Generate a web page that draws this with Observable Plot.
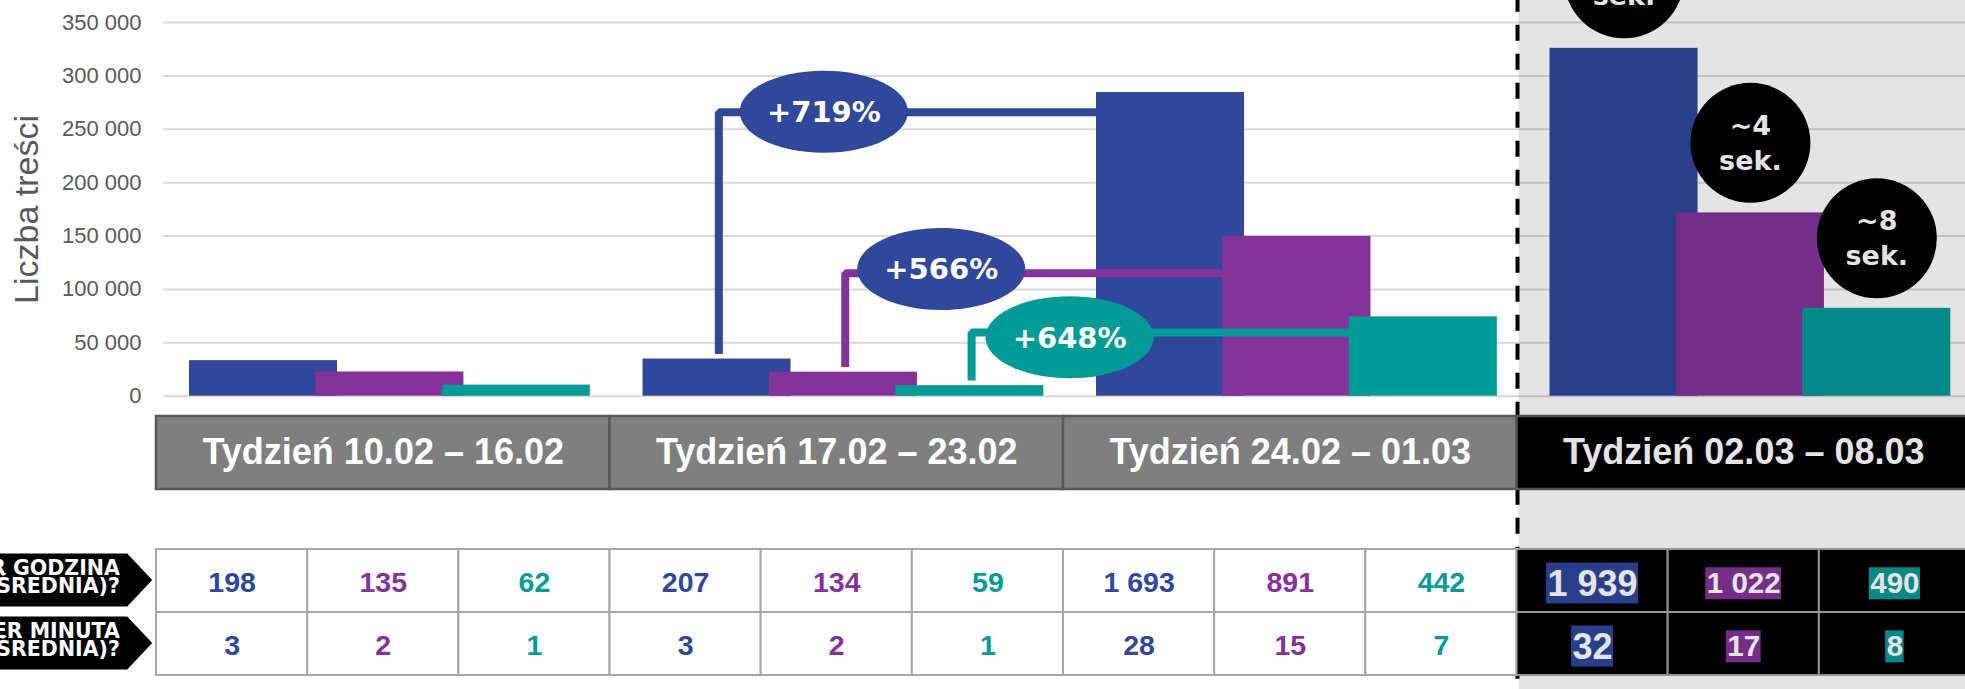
<!DOCTYPE html>
<html><head><meta charset="utf-8">
<script src="https://cdn.jsdelivr.net/npm/d3@7"></script>
<script src="https://cdn.jsdelivr.net/npm/@observablehq/plot@0.6"></script>
<style>
html,body{margin:0;padding:0;background:#fff;}
#chart{width:1965px;height:689px;overflow:hidden;}
#chart svg{display:block;max-width:none;}
</style></head><body><div id="chart"></div>
<script>
// ---------- data ----------
const weeks = ["Tydzień 10.02 – 16.02", "Tydzień 17.02 – 23.02", "Tydzień 24.02 – 01.03", "Tydzień 02.03 – 08.03"];
const seriesColors = ["#30479C", "#84339A", "#009A97"];
const barsBlue = [33300, 34800, 284400, 325800];
const barsPurple = [22700, 22500, 149700, 171700];
const barsTeal = [10400, 9900, 74300, 82300];
const perHourBlue = [198, 207, 1693, 1939];
const perHourPurple = [135, 134, 891, 1022];
const perHourTeal = [62, 59, 442, 490];
const perMinuteBlue = [3, 3, 28, 32];
const perMinutePurple = [2, 2, 15, 17];
const perMinuteTeal = [1, 1, 7, 8];
const yTicks = [0, 50000, 100000, 150000, 200000, 250000, 300000, 350000];
const changeLabels = ["+719%", "+566%", "+648%"];
const intervalLabels = ["~2\nsek.", "~4\nsek.", "~8\nsek."];
const rowKeys = ["godzina", "minuta"];
const rowLabels = ["ILE TREŚCI PER GODZINA\n(ŚREDNIA)?", "ILE TREŚCI PER MINUTA\n(ŚREDNIA)?"];
const yLabel = "Liczba treści";

// ---------- layout ----------
const W = 1965;
const XR = [156, 1970];
const BAND_PX = (XR[1] - XR[0]) / 4;
const OFF = 0.0728, STEP = 0.2787, BW = 0.3264;
const SANS = "'Liberation Sans', Arial, sans-serif";
const HEAVY = "'DejaVu Sans', sans-serif";
const OVERLAY = 0.106;
const calloutLevel = [266000, 115200, 59700];
const calloutLabelY = [266500, 119100, 55200];
const calloutDx = [105, 96, 98];
const calloutFill = [seriesColors[0], seriesColors[0], seriesColors[2]];
const fmtNum = d3.formatLocale({decimal: ",", thousands: " ", grouping: [3], currency: ["", ""]}).format(",d");

const series = [barsBlue, barsPurple, barsTeal];
const perHour = [perHourBlue, perHourPurple, perHourTeal];
const perMinute = [perMinuteBlue, perMinutePurple, perMinuteTeal];

const bars = [];
series.forEach((vals, s) => vals.forEach((v, g) => {
  const x1 = g + OFF + s * STEP;
  bars.push({g, s, v, x1, x2: x1 + BW, xc: x1 + BW / 2});
}));

const connectors = [];
const callouts = changeLabels.map((label, s) => {
  const cx = 1 + OFF + s * STEP + BW / 2 + 0.004;
  const endX = 2 + OFF + s * STEP;
  const bottom = series[s][1] + 4800;
  connectors.push({s, x: cx, y: bottom}, {s, x: cx, y: calloutLevel[s]}, {s, x: endX, y: calloutLevel[s]});
  return {label, s, x: cx + calloutDx[s] / BAND_PX, y: calloutLabelY[s], fill: calloutFill[s]};
});

const ellipse = {draw(ctx, size) {
  const r = Math.sqrt(size / Math.PI), ry = r, rx = r * 2.05, k = 0.5523;
  ctx.moveTo(rx, 0);
  ctx.bezierCurveTo(rx, ry * k, rx * k, ry, 0, ry);
  ctx.bezierCurveTo(-rx * k, ry, -rx, ry * k, -rx, 0);
  ctx.bezierCurveTo(-rx, -ry * k, -rx * k, -ry, 0, -ry);
  ctx.bezierCurveTo(rx * k, -ry, rx, -ry * k, rx, 0);
  ctx.closePath();
}};
const arrow = {draw(ctx) {
  ctx.moveTo(-170, -27.5); ctx.lineTo(-29.3, -27.5); ctx.lineTo(-4.3, -1);
  ctx.lineTo(-29.3, 25.5); ctx.lineTo(-170, 25.5); ctx.closePath();
}};

const overlay = () => Plot.rect([0], {x1: 3, x2: 4, insetLeft: 2, fill: "black", fillOpacity: OVERLAY});
const dashed = (offset) => Plot.ruleX([3], {stroke: "black", strokeWidth: 4, strokeDasharray: "16,13", strokeDashoffset: offset, dx: 0.5});
const xScale = {type: "linear", domain: [0, 4], range: XR, axis: null};
const baseStyle = {fontFamily: SANS, background: "transparent", maxWidth: "none"};

// ---------- chart ----------
const lastBars = bars.filter(d => d.g === 3);
const plotA = Plot.plot({
  width: W, height: 410, marginLeft: 163, marginRight: 0, marginTop: 0, marginBottom: 0,
  x: xScale,
  y: {type: "linear", domain: [0, 350000], range: [395.7, 22]},
  color: {type: "identity"},
  style: baseStyle,
  marks: [
    Plot.ruleY(yTicks, {stroke: "#D9D9D9", strokeWidth: 2}),
    Plot.rect(bars, {x1: "x1", x2: "x2", y1: () => 0, y2: "v", fill: d => seriesColors[d.s]}),
    Plot.line(connectors, {x: "x", y: "y", z: "s", stroke: d => seriesColors[d.s], strokeWidth: 8, strokeLinejoin: "miter", strokeLinecap: "butt"}),
    Plot.dot(callouts, {x: "x", y: "y", symbol: ellipse, r: 41, fill: "fill"}),
    Plot.text(callouts, {x: "x", y: "y", dy: 1, text: "label", fill: "white", fontSize: 29, fontWeight: "bold", fontFamily: HEAVY}),
    Plot.dot(lastBars, {x: "xc", y: "v", dy: -70, r: 60, fill: "black"}),
    Plot.text(lastBars, {x: "xc", y: "v", dy: -72, text: d => intervalLabels[d.s], fill: "white", fontSize: 27, fontWeight: "bold", fontFamily: HEAVY, lineHeight: 1.3}),
    overlay(),
    dashed(4.3),
    Plot.axisY(yTicks, {tickSize: 0, tickPadding: 22, tickFormat: fmtNum, fontSize: 22, color: "#595959", label: null}),
    Plot.text([yLabel], {frameAnchor: "left", textAnchor: "middle", rotate: -90, dx: -136, dy: 4, fontSize: 34, fill: "#595959"})
  ]
});

// ---------- header row ----------
const headerCells = weeks.map((w, g) => ({g, w}));
const plotB = Plot.plot({
  width: W, height: 90, margin: 0,
  x: xScale, color: {type: "identity"}, style: baseStyle,
  marks: [
    dashed(8.3),
    Plot.rect(headerCells, {x1: "g", x2: d => d.g + 1, insetTop: 6, insetBottom: 11, fill: d => d.g === 3 ? "black" : "#7F7F7F", stroke: "#595959", strokeWidth: 2.5}),
    Plot.text(headerCells, {x: d => d.g + 0.5, frameAnchor: "middle", dy: -3.3, text: "w", fill: "white", fontSize: 36, fontWeight: "bold"}),
    overlay()
  ]
});

// ---------- table ----------
const cells = [];
weeks.forEach((w, g) => [0, 1, 2].forEach(s => rowKeys.forEach((row, ri) => {
  const value = (ri === 0 ? perHour : perMinute)[s][g];
  cells.push({g, s, row, value, label: fmtNum(value), xc: g + (s + 0.5) / 3});
})));
const textW = (str, fs) => (str.replace(/ /g, "").length * 0.556 + (str.split(" ").length - 1) * 0.278) * fs + 2;
const bigCells = cells.filter(d => d.g === 3 && d.s === 0);
const smallCells = cells.filter(d => d.g === 3 && d.s > 0);
const box = (fs) => ({x1: d => d.xc - textW(d.label, fs) / 2 / BAND_PX, x2: d => d.xc + textW(d.label, fs) / 2 / BAND_PX, y: "row", fill: d => seriesColors[d.s]});
const plotC = Plot.plot({
  width: W, height: 189, margin: 0,
  x: xScale,
  y: {type: "band", domain: rowKeys, range: [49, 175], padding: 0, axis: null},
  color: {type: "identity"}, style: baseStyle,
  marks: [
    dashed(11.3),
    Plot.dot(rowKeys, {x: () => 0, y: d => d, symbol: arrow, r: 10, fill: "black"}),
    Plot.text(rowKeys, {x: () => 0, y: d => d, text: (d, i) => rowLabels[i], dx: -36.7, dy: -2.9, textAnchor: "end", fontSize: 20.5, fontWeight: "bold", fontFamily: HEAVY, fill: "white", lineHeight: 0.893}),
    Plot.barX(cells, {x1: d => d.g + d.s / 3, x2: d => d.g + (d.s + 1) / 3, y: "row", fill: d => d.g === 3 ? "black" : "white", stroke: "#A6A6A6", strokeWidth: 2}),
    Plot.barX(bigCells, {...box(36), insetTop: 13.5, insetBottom: 8.5}),
    Plot.barX(smallCells, {...box(29.5), insetTop: 18.3, insetBottom: 12.7}),
    Plot.text(cells.filter(d => d.g < 3), {x: "xc", y: "row", dy: 2, text: "label", fill: d => seriesColors[d.s], fontSize: 28.5, fontWeight: "bold"}),
    Plot.text(bigCells, {x: "xc", y: "row", dy: 3, text: "label", fill: "white", fontSize: 36, fontWeight: "bold"}),
    Plot.text(smallCells, {x: "xc", y: "row", dy: 3, text: "label", fill: "white", fontSize: 29.5, fontWeight: "bold"}),
    overlay()
  ]
});

const root = document.getElementById("chart");
root.append(plotA, plotB, plotC);
</script></body></html>
